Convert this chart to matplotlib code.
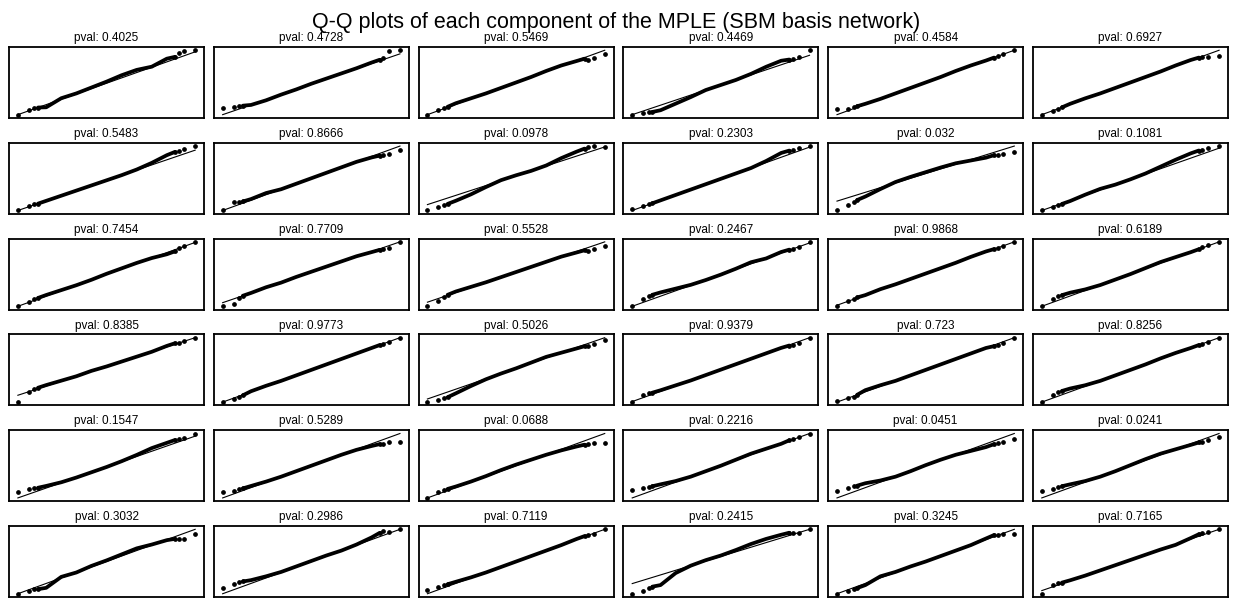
import numpy as np
import matplotlib.pyplot as plt

plt.rcParams['font.family'] = ['Liberation Sans', 'DejaVu Sans']

# theoretical normal quantiles (n ~ 300): 3 lowest ranks, body knots, 3 highest ranks
theo_q = [-2.94, -2.58, -2.39, -2.27, -2.0, -1.5, -1.0, -0.5, 0.0,
          0.5, 1.0, 1.5, 2.0, 2.27, 2.39, 2.58, 2.94]

pvals = ['0.4025', '0.4728', '0.5469', '0.4469', '0.4584', '0.6927',
         '0.5483', '0.8666', '0.0978', '0.2303', '0.032', '0.1081',
         '0.7454', '0.7709', '0.5528', '0.2467', '0.9868', '0.6189',
         '0.8385', '0.9773', '0.5026', '0.9379', '0.723', '0.8256',
         '0.1547', '0.5289', '0.0688', '0.2216', '0.0451', '0.0241',
         '0.3032', '0.2986', '0.7119', '0.2415', '0.3245', '0.7165']

# sample quantile minus reference line
resid_row1 = [
    [0, 0.1, 0.05, 0, -0.25, 0.1, 0.05, 0.1, 0.15, 0.25, 0.25, 0.05, 0.3, 0.2, 0.45, 0.45, 0.15],
    [0.6, 0.35, 0.3, 0.2, 0, -0.05, 0, 0, 0.05, 0.05, 0.05, 0.05, 0.1, 0.1, 0.15, 0.6, 0.35],
    [0, 0.05, 0.1, 0.05, 0.1, 0.05, 0, 0, 0, 0, 0.05, 0.05, -0.05, -0.1, -0.3, -0.35, -0.3],
    [0, -0.2, -0.3, -0.4, -0.5, -0.35, -0.2, 0, 0, 0, 0.1, 0.3, 0.4, 0.25, 0.2, 0.2, 0.5],
    [0.5, 0.2, 0.15, 0.1, 0.05, 0, 0, 0, 0, 0, 0.05, 0.05, 0, 0, 0.05, 0, 0],
    [0, 0, 0, 0, 0.05, 0.05, 0, 0, 0, 0, 0, 0.05, 0.05, 0, -0.1, -0.3, -0.55],
]
resid_row2 = [
    [0, 0.05, 0.05, 0, 0, 0, 0, 0, 0, 0, 0.05, 0.2, 0.45, 0.5, 0.5, 0.45, 0.4],
    [0, 0.45, 0.2, 0.15, 0.1, 0.15, 0, 0, 0, 0, 0, 0, -0.1, -0.2, -0.3, -0.35, -0.4],
    [-0.6, -0.65, -0.6, -0.6, -0.55, -0.4, -0.15, 0.05, 0.05, 0, 0.05, 0.3, 0.45, 0.5, 0.5, 0.45, 0],
    [0.1, 0.1, 0.05, 0, 0, 0, 0, 0, 0, 0, 0, 0.15, 0.4, 0.35, 0.3, 0.3, 0.1],
    [-1.0, -0.8, -0.6, -0.55, -0.45, -0.15, 0.1, 0.15, 0.15, 0.15, 0.1, -0.1, -0.3, -0.3, -0.4, -0.45, -0.6],
    [0, -0.05, -0.05, -0.05, -0.05, 0.05, 0.1, 0, 0, 0.05, 0.2, 0.35, 0.45, 0.45, 0.4, 0.35, 0.2],
]
resid_row3 = [
    [0, 0.05, 0.1, 0.1, 0.1, 0.05, 0, 0, 0.05, 0.05, 0.05, 0, -0.15, -0.15, 0, 0.05, 0.05],
    [-0.35, -0.45, -0.1, 0, 0, 0.05, 0, 0.05, 0.05, 0.05, 0.05, 0.05, -0.05, -0.1, -0.15, -0.2, 0],
    [-0.4, -0.25, 0, 0.05, 0.1, 0.05, 0, 0, 0, 0, 0, 0, -0.1, -0.15, -0.3, -0.3, -0.4],
    [0, 0.3, 0.4, 0.4, 0.35, 0.2, 0.05, 0, 0, 0.05, 0.15, 0, 0.1, 0.05, 0, 0, 0.1],
    [-0.1, 0, 0, 0.05, 0, 0.05, 0, 0, 0, 0, 0, 0.05, 0.05, 0, 0, -0.05, 0],
    [0, 0.3, 0.35, 0.35, 0.3, 0.1, 0, 0, 0, 0.05, 0.1, 0.05, 0, 0, 0.05, 0.05, 0],
]
resid_row4 = [
    [-0.7, -0.05, 0.1, 0.1, 0.1, 0.05, 0, 0.05, 0, 0, 0, 0, 0.1, 0.1, 0.05, 0.05, 0],
    [0, -0.1, -0.1, -0.05, 0.05, 0.05, 0, 0, 0, 0, 0, 0, 0, 0, -0.05, 0, 0],
    [-0.3, -0.5, -0.5, -0.5, -0.4, -0.2, -0.05, 0, 0, 0.05, 0.1, 0, -0.1, -0.15, -0.2, -0.25, -0.25],
    [-0.05, 0.2, 0.2, 0.15, 0.1, 0.05, 0, 0, 0, 0, 0, 0, 0, -0.05, -0.1, -0.1, 0],
    [0.1, 0, -0.05, 0, 0.15, 0.1, 0, 0, 0, 0, 0, 0, 0, -0.1, -0.15, -0.15, 0],
    [0, 0.3, 0.35, 0.35, 0.3, 0.1, 0, 0, 0, 0, 0.05, 0.05, 0, 0, -0.05, 0, 0],
]
resid_row5 = [
    [0.6, 0.5, 0.35, 0.3, 0.2, 0.05, 0, 0, 0, 0.05, 0.15, 0.3, 0.3, 0.3, 0.25, 0.2, 0.25],
    [0.5, 0.3, 0.25, 0.2, 0.15, 0.05, 0, 0, 0, 0, 0, -0.05, -0.2, -0.3, -0.4, -0.45, -0.75],
    [0, 0.2, 0.2, 0.15, 0.1, 0.05, 0.05, 0.1, 0.1, 0.05, 0, -0.1, -0.25, -0.35, -0.45, -0.55, -0.85],
    [0.7, 0.55, 0.45, 0.4, 0.3, 0.1, 0, 0, 0, 0.05, 0.1, 0.05, 0, 0.05, 0.05, 0.05, 0],
    [0.6, 0.55, 0.5, 0.45, 0.4, 0.15, 0, 0, 0.05, 0.05, 0, -0.15, -0.3, -0.3, -0.35, -0.4, -0.5],
    [0.6, 0.5, 0.45, 0.4, 0.3, 0.1, 0, 0, 0.05, 0.1, 0.1, 0, -0.1, -0.15, -0.2, -0.25, -0.3],
]
resid_row6 = [
    [0, -0.1, -0.15, -0.25, -0.4, 0.1, 0, 0.1, 0.1, 0.15, 0.2, 0.05, -0.05, -0.2, -0.35, -0.5, -0.45],
    [0.5, 0.55, 0.5, 0.45, 0.3, 0.15, 0.05, 0.05, 0.05, 0.05, 0, 0.05, 0.2, 0.35, 0.4, 0.1, 0],
    [0.35, 0.3, 0.25, 0.2, 0.15, 0.05, 0, 0, 0, 0, 0, 0, 0.05, 0.05, 0, -0.1, 0],
    [-1.1, -1.15, -1.0, -1.0, -1.1, -0.3, 0, 0.1, 0.1, 0.2, 0.35, 0.4, 0.35, 0.3, 0.2, 0, 0],
    [0, -0.15, -0.15, -0.15, -0.15, 0.15, 0.05, 0.05, 0, 0, 0, 0, 0.1, 0.15, 0, -0.1, -0.45],
    [-0.3, 0.2, 0.15, 0.1, 0.05, 0, 0, 0, 0, 0, 0, -0.05, 0.1, 0.2, 0.15, 0.1, 0],
]
resid = resid_row1 + resid_row2 + resid_row3 + resid_row4 + resid_row5 + resid_row6

fig, axes = plt.subplots(6, 6, figsize=(12.33, 5.99), dpi=100)
fig.subplots_adjust(left=0.0073, right=0.9959, top=0.9215, bottom=0.0034,
                    wspace=0.05, hspace=0.352)

x = np.array(theo_q)
tails = [0, 1, 2, 3, 13, 14, 15, 16]
for ax, pv, r in zip(axes.flat, pvals, resid):
    y = x + np.array(r)
    # reference line
    ax.plot(x, x, color='black', lw=0.8, zorder=2)
    # dense middle of the sample drawn as a thick chain
    ax.plot(x[3:14], y[3:14], color='black', lw=2.7,
            solid_capstyle='round', solid_joinstyle='round', zorder=3)
    # individual tail points
    ax.plot(x[tails], y[tails], 'o', color='black', markersize=2.4, zorder=4)
    ax.set_title('pval: ' + pv, fontsize=8.5, pad=4.2)
    ax.set_xticks([])
    ax.set_yticks([])
    for sp in ax.spines.values():
        sp.set_linewidth(1.3)

fig.suptitle('Q-Q plots of each component of the MPLE (SBM basis network)',
             fontsize=15.5, y=1 - 28 / 599, va='baseline')
fig.savefig('out.png')
